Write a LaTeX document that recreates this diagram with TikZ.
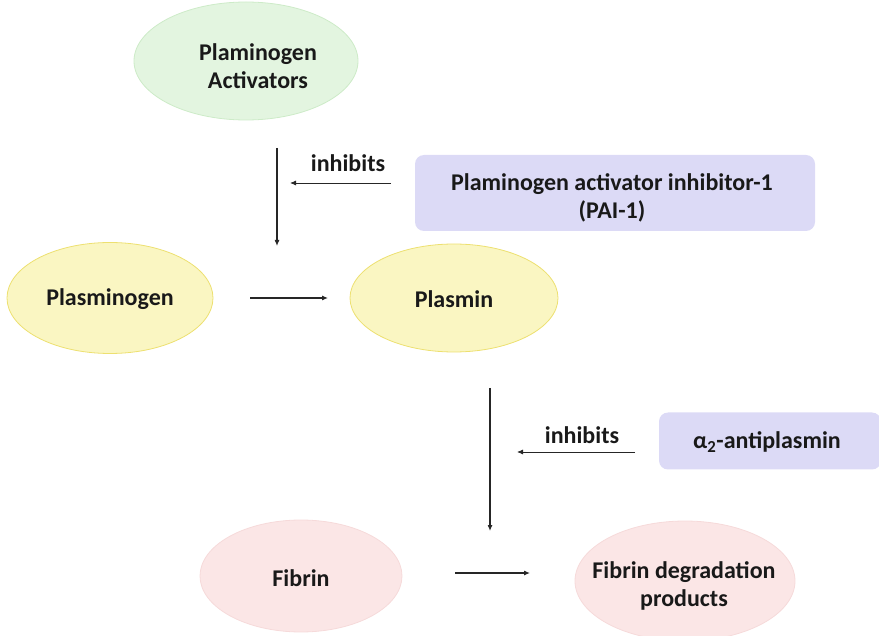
\documentclass[tikz,border=0pt]{standalone}
\usepackage{fontspec}
\setmainfont{Carlito}
\usetikzlibrary{shapes.geometric,arrows.meta}
\definecolor{greenfill}{HTML}{E3F5E0}
\definecolor{greenline}{HTML}{CDEBC8}
\definecolor{yellowfill}{HTML}{FAF6C2}
\definecolor{yellowline}{HTML}{EDE070}
\definecolor{pinkfill}{HTML}{FBE6E6}
\definecolor{pinkline}{HTML}{F6DADA}
\definecolor{boxfill}{HTML}{DCDAF6}
\begin{document}
\begin{tikzpicture}[x=1pt,y=-1pt,
  lbl/.style={font=\bfseries\fontsize{24}{28}\selectfont, align=center, text=black!90},
  blob/.style={ellipse, inner sep=0pt, line width=0.8pt},
  inhibitor/.style={rounded corners=9pt, fill=boxfill, draw=none, inner sep=0pt},
  flow/.style={-{Latex[length=6pt,width=5pt]}, line width=1.1pt, black!85},
  thin flow/.style={-{Latex[length=6pt,width=5pt]}, line width=0.8pt, black!85}]
\useasboundingbox (0,0) rectangle (879,636);

% activators
\node[blob, fill=greenfill, draw=greenline, minimum width=224pt, minimum height=118pt] (pa) at (246,61) {};
\node[lbl] (patext) at (258,66) {Plaminogen\\Activators};

% PAI-1
\node[inhibitor, minimum width=400pt, minimum height=76pt] (pai) at (615,193) {};
\node[lbl] (paitext) at (612,198) {Plaminogen activator inhibitor-1\\(PAI-1)};

% plasminogen -> plasmin
\node[blob, fill=yellowfill, draw=yellowline, minimum width=206pt, minimum height=111pt] (plg) at (110,298) {};
\node[lbl] (plgtext) at (110,299) {Plasminogen};
\node[blob, fill=yellowfill, draw=yellowline, minimum width=208pt, minimum height=108pt] (pls) at (454,298) {};
\node[lbl] (plstext) at (454,299) {Plasmin};

% alpha2-antiplasmin
\node[inhibitor, minimum width=222pt, minimum height=57pt] (ap) at (770,441) {};
\node[lbl] (aptext) at (767,442) {α\textsubscript{2}-antiplasmin};

% fibrin -> FDP
\node[blob, fill=pinkfill, draw=pinkline, minimum width=202pt, minimum height=112pt] (fib) at (301,576) {};
\node[lbl] (fibtext) at (301,578) {Fibrin};
\node[blob, fill=pinkfill, draw=pinkline, minimum width=220pt, minimum height=120pt] (fdp) at (685,581) {};
\node[lbl] (fdptext) at (684,586) {Fibrin degradation\\products};

% arrows
\coordinate (a1s) at (277,148);
\coordinate (a1e) at (277,246);
\draw[flow] (a1s) -- (a1e);
\coordinate (i1s) at (391,183);
\coordinate (i1e) at (290,183);
\draw[thin flow] (i1s) -- (i1e);
\node[lbl] (inh1) at (348,163) {inhibits};

\coordinate (b1s) at (250,298);
\coordinate (b1e) at (328,298);
\draw[flow] (b1s) -- (b1e);

\coordinate (a2s) at (490,388);
\coordinate (a2e) at (490,531);
\draw[flow] (a2s) -- (a2e);
\coordinate (i2s) at (635,452);
\coordinate (i2e) at (517,452);
\draw[thin flow] (i2s) -- (i2e);
\node[lbl] (inh2) at (582,435) {inhibits};

\coordinate (b2s) at (455,573);
\coordinate (b2e) at (530,573);
\draw[flow] (b2s) -- (b2e);
\end{tikzpicture}
\end{document}
